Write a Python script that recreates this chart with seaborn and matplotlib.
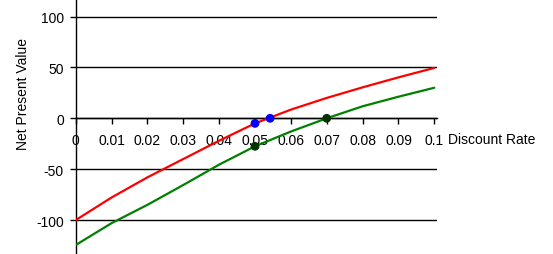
import matplotlib
matplotlib.use("Agg")
import matplotlib.pyplot as plt
import seaborn as sns
import pandas as pd

rates = [0.0, 0.01, 0.02, 0.03, 0.04, 0.05, 0.06, 0.07, 0.08, 0.09, 0.10]
npv_red = [-100, -77.8, -58, -40, -22, -5, 8.5, 20, 30.4, 40.2, 49.5]
npv_green = [-124.5, -103, -85, -65.5, -45.5, -27.5, -13, 0, 11.8, 21.2, 30]
blue_x = [0.05, 0.0542]
blue_y = [-5, 0]
dkgreen_x = [0.05, 0.07]
dkgreen_y = [-27.5, 0]
y_ticks = [-100, -50, 0, 50, 100]
x_ticks = [0, 0.01, 0.02, 0.03, 0.04, 0.05, 0.06, 0.07, 0.08, 0.09, 0.1]
x_labels = ["0", "0.01", "0.02", "0.03", "0.04", "0.05", "0.06", "0.07", "0.08", "0.09", "0.1"]
y_labels = ["-100", "-50", "0", "50", "100"]

sns.set_style("white")
plt.rcParams["font.family"] = ["Liberation Sans", "DejaVu Sans"]
plt.rcParams["axes.unicode_minus"] = False

W, H = 553, 255
fig = plt.figure(figsize=(W / 100, H / 100), dpi=100)
ax = fig.add_axes([75.7 / W, 0, (436.7 - 75.7) / W, 1])

df_red = pd.DataFrame({"rate": rates, "npv": npv_red})
df_green = pd.DataFrame({"rate": rates, "npv": npv_green})

for yv in y_ticks:
    ax.axhline(yv, color="black", lw=1.0, zorder=1)

sns.lineplot(data=df_red, x="rate", y="npv", ax=ax, color="#ff0000", lw=1.6, zorder=3)
sns.lineplot(data=df_green, x="rate", y="npv", ax=ax, color="#008000", lw=1.6, zorder=3)
sns.scatterplot(x=blue_x, y=blue_y, ax=ax, color="#0000ff", s=40, edgecolor="none", zorder=5)
sns.scatterplot(x=dkgreen_x, y=dkgreen_y, ax=ax, color="#003300", s=40, edgecolor="none", zorder=5)

ax.set_xlim(0, 0.1 + 2.4 / 35.86 * 0.01)
ax.set_ylim((119.3 - 255) / 1.018, 119.3 / 1.018)

ax.spines["top"].set_visible(False)
ax.spines["right"].set_visible(False)
ax.spines["left"].set_color("black")
ax.spines["left"].set_linewidth(1.0)
ax.spines["bottom"].set_position(("data", 0))
ax.spines["bottom"].set_color("black")
ax.spines["bottom"].set_linewidth(1.0)

ax.set_xticks(x_ticks)
ax.set_xticklabels(x_labels)
ax.set_yticks(y_ticks)
ax.set_yticklabels(y_labels)
ax.tick_params(axis="x", direction="out", length=4, width=1, color="black",
               pad=6.5, labelsize=10, labelcolor="black", bottom=True)
ax.tick_params(axis="y", direction="out", length=4.5, width=1, color="black",
               pad=4, labelsize=10, labelcolor="black", left=True)
ax.set_xlabel("")
ax.set_ylabel("")
ax.grid(False)

fig.text(448 / W, 1 - 140 / H, "Discount Rate", ha="left", va="center", fontsize=10, color="black")
fig.text(23 / W, 1 - 94 / H, "Net Present Value", ha="center", va="center",
         rotation=90, fontsize=10, color="black")

fig.savefig("out.png", dpi=100, facecolor="white")
